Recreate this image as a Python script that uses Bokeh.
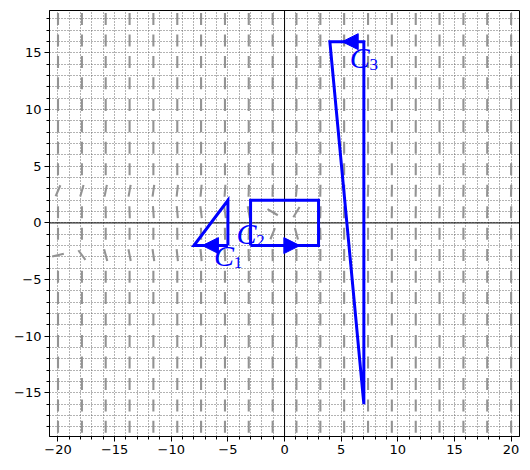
from bokeh.plotting import figure
from bokeh.models import (ColumnDataSource, Range1d, FixedTicker, Span, Arrow, NormalHead)
from bokeh.core.properties import value
from bokeh.embed import file_html
from bokeh.resources import INLINE

# ---- slope field grid ----
slope_x = [-20.0, -17.89, -15.79, -13.68, -11.58, -9.47, -7.37, -5.26, -3.16, -1.05,
           1.05, 3.16, 5.26, 7.37, 9.47, 11.58, 13.68, 15.79, 17.89, 20.0]
slope_y = [-18.0, -16.11, -14.21, -12.32, -10.42, -8.53, -6.63, -4.74, -2.84, -0.95,
           0.95, 2.84, 4.74, 6.63, 8.53, 10.42, 12.32, 14.21, 16.11, 18.0]
# segment directions (degrees) for rows that are not vertical
angle_row_m284 = [14, 126, 105, 101, 98, 96, 95, 93, 92, 91, 90, 90, 90, 90, 90, 90, 90, 90, 90, 90]
angle_row_m095 = [90, 90, 90, 90, 90, 91, 91, 91, 88, 68, 105, 92, 90, 90, 90, 90, 90, 90, 90, 90]
angle_row_095 = [90, 90, 91, 92, 94, 95, 97, 98, 100, 149, 59, 88, 89, 88, 89, 89, 89, 89, 89, 89]
angle_row_284 = [67, 74, 79, 80, 82, 84, 85, 86, 88, 89, 85, 89, 89, 88, 89, 89, 89, 89, 89, 89]
special_rows = {-2.84: angle_row_m284, -0.95: angle_row_m095, 0.95: angle_row_095, 2.84: angle_row_284}
vertical_angle = 90

# ---- curves ----
c1_x = [-5, -8, -5, -5]
c1_y = [-2, -2, 2, -2]
c2_x = [-3, 3, 3, -3, -3]
c2_y = [-2, -2, 2, 2, -2]
c3_x = [7, 7, 4, 7]
c3_y = [-16, 16, 16, -16]
arrow_x_start = [-5.84, -0.06, 6.5]
arrow_y_start = [-2, -2, 16]
arrow_x_end = [-7.25, 1.35, 5.09]
arrow_y_end = [-2, -2, 16]
label_x = [-5, -3, 7]
label_y = [-3, -1, 14.5]
label_main = ["C", "C", "C"]
label_sub = ["1", "2", "3"]

# ---- ticks ----
x_ticks = [-20, -15, -10, -5, 0, 5, 10, 15, 20]
x_tick_labels = ["\u221220", "\u221215", "\u221210", "\u22125", "0", "5", "10", "15", "20"]
y_ticks = [-15, -10, -5, 0, 5, 10, 15]
y_tick_labels = ["\u221215", "\u221210", "\u22125", "0", "5", "10", "15"]
minor_x = list(range(-20, 21))
minor_y = list(range(-18, 19))

BLUE = "#0000ff"

p = figure(width=528, height=466, output_backend="svg", toolbar_location=None,
           x_range=Range1d(-20.75, 20.74), y_range=Range1d(-18.85, 18.75),
           min_border_left=49, min_border_right=9, min_border_top=10, min_border_bottom=30)
p.background_fill_color = "white"
p.outline_line_color = "black"
p.outline_line_width = 1

for ax, ticks, labels, minor in ((p.xaxis[0], x_ticks, x_tick_labels, minor_x),
                                 (p.yaxis[0], y_ticks, y_tick_labels, minor_y)):
    ax.ticker = FixedTicker(ticks=ticks, minor_ticks=minor)
    ax.major_label_overrides = {t: l for t, l in zip(ticks, labels)}
    ax.major_label_text_font = "DejaVu Sans"
    ax.major_label_text_font_size = "13px"
    ax.major_label_text_color = "black"
    ax.major_label_standoff = 3
    ax.major_tick_out = 5
    ax.major_tick_in = 0
    ax.minor_tick_out = 3
    ax.minor_tick_in = 0
    ax.axis_line_color = "black"
    ax.major_tick_line_color = "black"
    ax.minor_tick_line_color = "black"

# dotted grid at every unit
p.xgrid[0].ticker = FixedTicker(ticks=minor_x)
p.ygrid[0].ticker = FixedTicker(ticks=minor_y)
for g in (p.xgrid[0], p.ygrid[0]):
    g.grid_line_color = "#666666"
    g.grid_line_dash = "1 2"
    g.grid_line_width = 1

# axes through origin
p.add_layout(Span(location=0, dimension="width", line_color="black", line_width=1, level="underlay"))
p.add_layout(Span(location=0, dimension="height", line_color="black", line_width=1, level="underlay"))

# slope field
sx, sy, sa = [], [], []
for yv in slope_y:
    row = special_rows.get(yv, [vertical_angle] * len(slope_x))
    for xv, a in zip(slope_x, row):
        sx.append(xv)
        sy.append(yv)
        sa.append(a)
field = ColumnDataSource(dict(x=sx, y=sy, a=sa))
p.scatter("x", "y", source=field, marker="dash", size=12, angle="a", angle_units="deg",
          line_color="#939393", line_width=2.1)

# curves
for cx, cy in ((c1_x, c1_y), (c2_x, c2_y), (c3_x, c3_y)):
    p.line(cx, cy, line_color=BLUE, line_width=3, line_join="miter")

arrows = ColumnDataSource(dict(x0=arrow_x_start, y0=arrow_y_start, x1=arrow_x_end, y1=arrow_y_end))
p.add_layout(Arrow(source=arrows, x_start="x0", y_start="y0", x_end="x1", y_end="y1",
                   line_alpha=0,
                   end=NormalHead(size=16, fill_color=BLUE, line_color=BLUE, line_width=1)))

labels = ColumnDataSource(dict(x=label_x, y=label_y, m=label_main, s=label_sub))
p.text("x", "y", text="m", source=labels, text_font=value("Liberation Serif"),
       text_font_style="italic", text_font_size="30px", text_color=BLUE,
       text_align="center", text_baseline="middle", x_offset=-4, y_offset=-1)
p.text("x", "y", text="s", source=labels, text_font=value("Liberation Serif"),
       text_font_size="17px", text_color=BLUE,
       text_align="center", text_baseline="middle", x_offset=10, y_offset=6)

open("out.html", "w").write(file_html(p, INLINE))
